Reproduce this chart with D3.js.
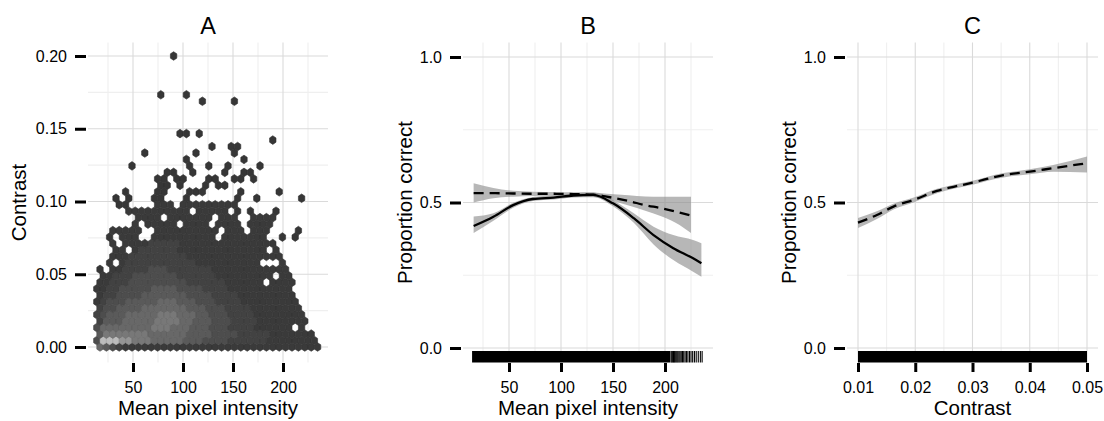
<!DOCTYPE html>
<html>
<head>
<meta charset="utf-8">
<script src="https://cdn.jsdelivr.net/npm/d3@7"></script>
<style>
  html, body { margin: 0; padding: 0; background: #ffffff; }
  svg { display: block; }
</style>
</head>
<body>
<svg id="chart" width="1104" height="421"></svg>
<script>
// ---------------------------------------------------------------------------
// Data
// ---------------------------------------------------------------------------

// Panel A: hexagonal bins of image mean pixel intensity vs. contrast.
// One entry per hex row, bottom row (contrast = 0) first.  Tokens are
// "level" or "level*n" (run of n bins); "." marks an empty bin, 1-9 are
// count classes (1 = fewest images, 9 = most).
const hexRows = [
  "6 5 4 3 2*31",
  "4 9*3 8*2 7*3 6*5 5*3 4*4 3*6 2*8",
  "5 7*7 6*6 5*4 4*4 3*5 2*7 .",
  "4 6*8 7*3 6*3 5*3 4*3 3*4 2*6 . 2 .*2",
  "3 5*3 6*5 7*4 6*2 5*3 4*3 3*4 2*8 .*2",
  "3 4 5*3 6*5 7*3 6*3 5*2 4*3 3*4 2*8 .*2",
  "3 4*2 5*4 6*7 5*3 4*3 3*4 2*8 .*3",
  "2 3 4*3 5*5 6*3 5*3 4*3 3*4 2*9 .*3",
  "2 3*2 4*4 5*7 4*4 3*4 2*9 .*4",
  "2*2 3*2 4*5 5*4 4*4 3*4 2*10 .*4",
  "2*2 3*3 4*9 3*6 2*6 . 2*4 .*4",
  ". 2*2 3*3 4*7 3*6 2*9 . 2*2 .*4",
  "1 . 2*2 3*4 4*3 3*7 2*12 .*5",
  ".*2 2 . 2 3*11 2*10 .*3 2 .*5",
  ".*2 2*3 3*9 2*15 .*6",
  ".*3 2*2 . 2 3*6 2*14 . 2 .*6",
  ".*2 2 . 2*4 3*5 2*15 .*7",
  ".*2 1 . 2*3 .*2 2*10 . 2*7 .*2 1 . 1 .*3",
  ".*2 2*5 .*2 2*10 . 2*3 . 2*3 .*4 1 .*3",
  ".*6 2 . 2*5 . 2*4 . 2*4 . 2*4 .*7",
  ".*6 2*4 . 2*7 . 2*3 .*2 2*4 .*7",
  ".*5 2*10 . 2*5 . 1 . 1 .*3 1 .*6",
  ".*3 1*2 .*4 2*3 . 2*9 .*13",
  ".*3 1 . 1 .*3 1*2 .*3 1 .*7 1 .*2 1 .*6 1 .*2",
  ".*4 1 .*4 1*2 .*3 1*3 .*5 1 .*5 1 .*6",
  ".*10 1*2 . 1 .*3 1 . 1*2 .*14",
  ".*9 1*2 . 1*2 .*3 1*2 .*2 1*2 . 1 .*10",
  ".*11 1*2 .*2 1 .*4 1 .*2 1*2 .*10",
  ".*5 1 .*8 1 .*2 1 .*2 1 .*4 1 .*9",
  ".*14 1 .*8 1 .*11",
  ".*7 1 .*7 1 .*5 1 .*13",
  ".*18 1 .*2 1*2 .*12",
  ".*27 1 .*7",
  ".*13 1*2 . 1 .*18",
  "", "", "", "",
  ".*16 1 .*4 1 .*13",
  ".*10 1 .*3 1 .*20",
  "", "", "", "", "",
  ".*12 1 .*22"
];
const hexStepX = 6.4;        // centre spacing along a row (intensity)
const hexStepY = 0.2 / 45;   // row spacing (contrast)
const hexOriginX = 13.8;     // first centre of the odd rows
const countShades = ["#363636", "#3a3a3a", "#424242", "#4d4d4d", "#5a5a5a",
                     "#686868", "#787878", "#959595", "#bcbcbc"];

// Panel B: smoothed proportion correct against mean pixel intensity
const intensitySolid = [16, 35, 54, 73, 93, 112, 131, 150, 170, 189, 208, 227, 235];
const fitSolid  = [0.419, 0.451, 0.491, 0.512, 0.517, 0.524, 0.526, 0.497, 0.446, 0.388, 0.343, 0.308, 0.291];
const lowSolid  = [0.395, 0.437, 0.482, 0.505, 0.510, 0.517, 0.518, 0.487, 0.430, 0.356, 0.302, 0.262, 0.245];
const highSolid = [0.452, 0.463, 0.499, 0.519, 0.524, 0.531, 0.534, 0.508, 0.463, 0.417, 0.388, 0.371, 0.360];

const intensityDashed = [16, 35, 54, 73, 93, 112, 131, 144, 165, 181, 197, 214, 225];
const fitDashed  = [0.532, 0.532, 0.531, 0.530, 0.530, 0.529, 0.527, 0.520, 0.505, 0.491, 0.480, 0.465, 0.455];
const lowDashed  = [0.500, 0.515, 0.520, 0.522, 0.523, 0.522, 0.520, 0.510, 0.490, 0.472, 0.452, 0.423, 0.395];
const highDashed = [0.566, 0.550, 0.540, 0.537, 0.536, 0.535, 0.534, 0.530, 0.525, 0.521, 0.520, 0.520, 0.520];

// Rug of observed intensities: spans dense enough to print solid, then single values
const rugSpansB = [[14.5, 205]];
const rugValuesB = [205.8, 206.6, 207.4, 208.2, 209, 209.8, 210.7, 211.6, 212.5, 213.5,
                    214.5, 215.6, 216.8, 218, 219.3, 220.6, 222, 223.5, 225, 226.6,
                    228.3, 230, 232, 234, 235.7];

// Panel C: smoothed proportion correct against contrast
const contrastC = [0.010, 0.0133, 0.0162, 0.020, 0.0238, 0.0267, 0.030, 0.0325, 0.0354, 0.040, 0.0441, 0.050];
const fitC  = [0.431, 0.457, 0.486, 0.511, 0.540, 0.554, 0.568, 0.581, 0.594, 0.606, 0.618, 0.635];
const lowC  = [0.412, 0.443, 0.476, 0.503, 0.532, 0.547, 0.561, 0.574, 0.586, 0.597, 0.606, 0.603];
const highC = [0.447, 0.470, 0.496, 0.519, 0.547, 0.561, 0.575, 0.588, 0.601, 0.614, 0.629, 0.658];
const rugSpansC = [[0.01, 0.05]];

// Axis ticks and grid
const intensityTicks = [50, 100, 150, 200];
const intensityMinor = [25, 75, 125, 175, 225];
const contrastTicksA = [0, 0.05, 0.10, 0.15, 0.20];
const contrastMinorA = [0.025, 0.075, 0.125, 0.175];
const proportionTicks = [0, 0.5, 1];
const proportionMinor = [0.25, 0.75];
const contrastTicksC = [0.01, 0.02, 0.03, 0.04, 0.05];
const contrastMinorC = [0.015, 0.025, 0.035, 0.045];

// ---------------------------------------------------------------------------
// Drawing
// ---------------------------------------------------------------------------
const FONT = '"Liberation Sans", Arial, Helvetica, sans-serif';
const svg = d3.select("#chart").attr("font-family", FONT);
const panelTop = 42.5, panelBottom = 362.5;

const xA = d3.scaleLinear().domain([50, 200]).range([133, 283]);
const yA = d3.scaleLinear().domain([0, 0.2]).range([347, 56]);
const xB = d3.scaleLinear().domain([50, 200]).range([509, 665]);
const yP = d3.scaleLinear().domain([0, 1]).range([348, 57]);
const xC = d3.scaleLinear().domain([0.01, 0.05]).range([858, 1087]);

const panels = [
  { title: "A", x: xA, y: yA, left: 88, right: 328,
    xMajor: intensityTicks, xMinor: intensityMinor, xFmt: d3.format("d"),
    yMajor: contrastTicksA, yMinor: contrastMinorA, yFmt: d3.format(".2f"),
    xLabel: "Mean pixel intensity", yLabel: "Contrast", yLabelX: 26 },
  { title: "B", x: xB, y: yP, left: 463, right: 713,
    xMajor: intensityTicks, xMinor: intensityMinor, xFmt: d3.format("d"),
    yMajor: proportionTicks, yMinor: proportionMinor, yFmt: d3.format(".1f"),
    xLabel: "Mean pixel intensity", yLabel: "Proportion correct", yLabelX: 412 },
  { title: "C", x: xC, y: yP, left: 847, right: 1098,
    xMajor: contrastTicksC, xMinor: contrastMinorC, xFmt: d3.format(".2f"),
    yMajor: proportionTicks, yMinor: proportionMinor, yFmt: d3.format(".1f"),
    xLabel: "Contrast", yLabel: "Proportion correct", yLabelX: 796 }
];

function drawFrame(p) {
  const grid = svg.append("g");
  // minor grid first, major on top
  grid.append("g").selectAll("line").data(p.xMinor).join("line")
    .attr("x1", d => p.x(d)).attr("x2", d => p.x(d))
    .attr("y1", panelTop).attr("y2", panelBottom)
    .attr("stroke", "#efefef").attr("stroke-width", 1.1);
  grid.append("g").selectAll("line").data(p.yMinor).join("line")
    .attr("x1", p.left).attr("x2", p.right)
    .attr("y1", d => p.y(d)).attr("y2", d => p.y(d))
    .attr("stroke", "#efefef").attr("stroke-width", 1.1);
  grid.append("g").selectAll("line").data(p.xMajor).join("line")
    .attr("x1", d => p.x(d)).attr("x2", d => p.x(d))
    .attr("y1", panelTop).attr("y2", panelBottom)
    .attr("stroke", "#dadada").attr("stroke-width", 1.1);
  grid.append("g").selectAll("line").data(p.yMajor).join("line")
    .attr("x1", p.left).attr("x2", p.right)
    .attr("y1", d => p.y(d)).attr("y2", d => p.y(d))
    .attr("stroke", "#dadada").attr("stroke-width", 1.1);

  // y axis: detached heavy ticks
  const ay = svg.append("g")
    .attr("transform", `translate(${p.left - 2},0)`)
    .call(d3.axisLeft(p.y).tickValues(p.yMajor).tickFormat(p.yFmt)
      .tickSize(11).tickPadding(8));
  ay.attr("font-family", FONT).attr("font-size", 16);
  ay.select(".domain").remove();
  ay.selectAll(".tick line").attr("stroke", "#000").attr("stroke-width", 3);
  ay.selectAll(".tick text").attr("fill", "#000");

  const ax = svg.append("g")
    .attr("transform", `translate(0,${panelBottom + 0.5})`)
    .call(d3.axisBottom(p.x).tickValues(p.xMajor).tickFormat(p.xFmt)
      .tickSize(9).tickPadding(9.5));
  ax.attr("font-family", FONT).attr("font-size", 16);
  ax.select(".domain").remove();
  ax.selectAll(".tick line").attr("stroke", "#000").attr("stroke-width", 3);
  ax.selectAll(".tick text").attr("fill", "#000");

  // titles
  const cx = (p.left + p.right) / 2;
  const cy = (panelTop + panelBottom) / 2;
  svg.append("text").attr("x", cx).attr("y", 34)
    .attr("text-anchor", "middle").attr("font-size", 23.5).attr("fill", "#000")
    .text(p.title);
  svg.append("text").attr("x", cx).attr("y", 415)
    .attr("text-anchor", "middle").attr("font-size", 20.5).attr("fill", "#000")
    .text(p.xLabel);
  svg.append("text")
    .attr("transform", `translate(${p.yLabelX},${cy}) rotate(-90)`)
    .attr("text-anchor", "middle").attr("font-size", 20.5).attr("fill", "#000")
    .text(p.yLabel);
}

panels.forEach(drawFrame);

// ---- Panel A: hexbins ----
const hexLayer = svg.append("g");
const hexes = [];
hexRows.forEach((row, r) => {
  const cells = [];
  row.split(/\s+/).filter(t => t.length).forEach(tok => {
    const [lvl, n] = tok.split("*");
    for (let k = 0; k < (n ? +n : 1); k++) cells.push(lvl);
  });
  cells.forEach((lvl, c) => {
    if (lvl === ".") return;
    hexes.push({
      intensity: hexOriginX + c * hexStepX + (r % 2 === 0 ? hexStepX / 2 : 0),
      contrast: r * hexStepY,
      level: +lvl
    });
  });
});
const hw = (xA(hexStepX) - xA(0)) / 2;          // half width of a hex
const hr = (yA(0) - yA(hexStepY)) * 2 / 3;      // vertex radius (vertical)
const hexPath = `M0,${-hr}L${hw},${-hr / 2}L${hw},${hr / 2}L0,${hr}L${-hw},${hr / 2}L${-hw},${-hr / 2}Z`;
hexLayer.selectAll("path").data(hexes).join("path")
  .attr("d", hexPath)
  .attr("transform", d => `translate(${xA(d.intensity)},${yA(d.contrast)})`)
  .attr("fill", d => countShades[d.level - 1])
  .attr("stroke", d => d3.color(countShades[d.level - 1]).darker(0.4))
  .attr("stroke-width", 0.6);

// ---- Panels B and C: ribbons, smooths and rugs ----
function zipRows(xs, fit, lo, hi) {
  return xs.map((x, i) => ({ x, fit: fit[i], lo: lo[i], hi: hi[i] }));
}
const solidRows = zipRows(intensitySolid, fitSolid, lowSolid, highSolid);
const dashedRows = zipRows(intensityDashed, fitDashed, lowDashed, highDashed);
const cRows = zipRows(contrastC, fitC, lowC, highC);

function smoothPaths(xs, ys, rows, dashed) {
  const area = d3.area().x(d => xs(d.x)).y0(d => ys(d.lo)).y1(d => ys(d.hi))
    .curve(d3.curveMonotoneX);
  const line = d3.line().x(d => xs(d.x)).y(d => ys(d.fit)).curve(d3.curveMonotoneX);
  return { area: area(rows), line: line(rows), dashed };
}
const bandLayer = svg.append("g");
const lineLayer = svg.append("g");
[smoothPaths(xB, yP, dashedRows, true), smoothPaths(xB, yP, solidRows, false),
 smoothPaths(xC, yP, cRows, true)].forEach(s => {
  bandLayer.append("path").attr("d", s.area)
    .attr("fill", "#8a8a8a").attr("fill-opacity", 0.62);
  lineLayer.append("path").attr("d", s.line)
    .attr("fill", "none").attr("stroke", "#000").attr("stroke-width", 2.3)
    .attr("stroke-dasharray", s.dashed ? "10,6" : null);
});

const rugTop = 351, rugBottom = panelBottom;
function drawRug(xs, spans, values) {
  const g = svg.append("g");
  g.selectAll("rect").data(spans).join("rect")
    .attr("x", d => xs(d[0])).attr("width", d => xs(d[1]) - xs(d[0]))
    .attr("y", rugTop).attr("height", rugBottom - rugTop).attr("fill", "#000");
  g.selectAll("line").data(values).join("line")
    .attr("x1", d => xs(d)).attr("x2", d => xs(d))
    .attr("y1", rugTop).attr("y2", rugBottom)
    .attr("stroke", "#000").attr("stroke-width", 1.1);
}
drawRug(xB, rugSpansB, rugValuesB);
drawRug(xC, rugSpansC, []);
</script>
</body>
</html>
